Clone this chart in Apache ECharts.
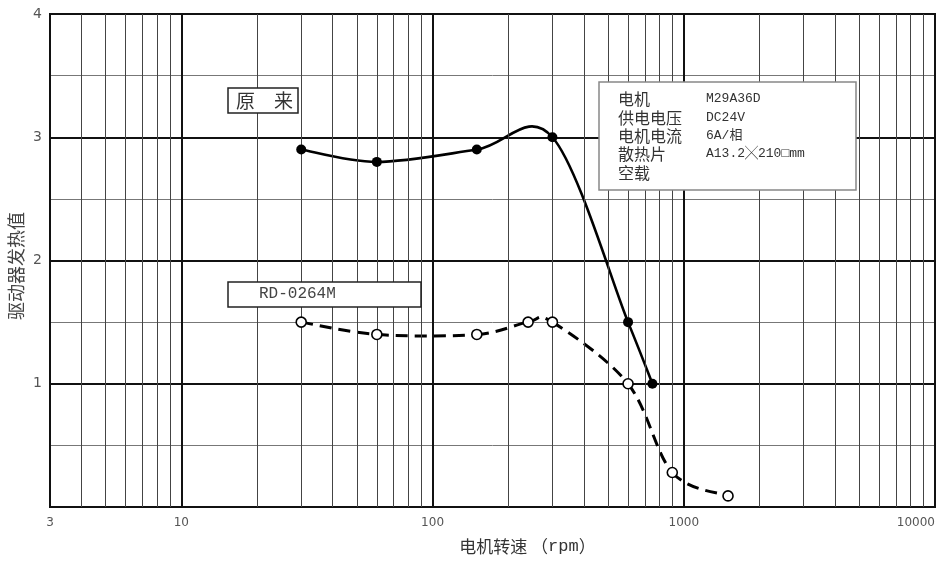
<!DOCTYPE html>
<html>
<head>
<meta charset="utf-8">
<script src="https://cdn.jsdelivr.net/npm/echarts@6/dist/echarts.min.js"></script>
<style>html,body{margin:0;padding:0;background:#fff;}#c{width:948px;height:561px;}</style>
</head>
<body>
<div id="c"></div>
<script>
// Data
var speedOld = [30, 60, 150, 300, 600, 750];
var heatOld = [2.9, 2.8, 2.9, 3.0, 1.5, 1.0];
var speedNew = [30, 60, 150, 240, 300, 600, 900, 1500];
var heatNew = [1.5, 1.4, 1.4, 1.5, 1.5, 1.0, 0.28, 0.09];
var minorX = [4,5,6,7,8,9,20,30,40,50,60,70,80,90,200,300,400,500,600,700,800,900,2000,3000,4000,5000,6000,7000,8000,9000];
var infoLabels = ['电机', '供电电压', '电机电流', '散热片', '空载'];
var infoValues = ['M29A36D', 'DC24V', '6A/相', 'A13.2╳210□mm', ''];
var legendOld = '原　来';
var legendNew = 'RD-0264M';
var yName = '驱动器发热值';

function pairs(xs, ys) { return xs.map(function (x, i) { return [x, ys[i]]; }); }

// Catmull-Rom spline segments drawn through the axis scales (api.coord)
function splineRenderer(xs, ys, style) {
  return function (params, api) {
    var i = params.dataIndex, n = xs.length;
    if (i >= n - 1) return null;
    function P(k) { k = Math.max(0, Math.min(n - 1, k)); return api.coord([xs[k], ys[k]]); }
    var p0 = P(i - 1), p1 = P(i), p2 = P(i + 1), p3 = P(i + 2);
    return {
      type: 'bezierCurve',
      shape: {
        x1: p1[0], y1: p1[1], x2: p2[0], y2: p2[1],
        cpx1: p1[0] + (p2[0] - p0[0]) / 6, cpy1: p1[1] + (p2[1] - p0[1]) / 6,
        cpx2: p2[0] - (p3[0] - p1[0]) / 6, cpy2: p2[1] - (p3[1] - p1[1]) / 6
      },
      style: style,
      silent: true
    };
  };
}

var chart = echarts.init(document.getElementById('c'), null, { renderer: 'canvas' });

var graphics = [
  { type: 'rect', shape: { x: 228, y: 88, width: 70, height: 25 }, style: { fill: '#fff', stroke: '#222', lineWidth: 1.5 }, z: 100 },
  { type: 'text', x: 236, y: 101, style: { text: legendOld, font: '19px "Noto Sans CJK SC"', fill: '#333', verticalAlign: 'middle' }, z: 101 },
  { type: 'rect', shape: { x: 228, y: 282, width: 193, height: 25 }, style: { fill: '#fff', stroke: '#222', lineWidth: 1.5 }, z: 100 },
  { type: 'text', x: 259, y: 294, style: { text: legendNew, font: '16px "Liberation Mono"', fill: '#444', verticalAlign: 'middle' }, z: 101 },
  { type: 'rect', shape: { x: 599, y: 82, width: 257, height: 108 }, style: { fill: '#fff', stroke: '#888', lineWidth: 1.5 }, z: 100 },
  { type: 'text', x: 16, y: 266, rotation: Math.PI / 2, style: { text: yName, font: '18px "Noto Sans CJK SC"', fill: '#444', align: 'center', verticalAlign: 'middle' }, z: 101 }
];
var rowY = [99, 118, 136, 154, 173];
infoLabels.forEach(function (t, i) {
  graphics.push({ type: 'text', x: 618, y: rowY[i], style: { text: t, font: '16px "Noto Sans CJK SC"', fill: '#333', verticalAlign: 'middle' }, z: 101 });
  if (infoValues[i]) {
    graphics.push({ type: 'text', x: 706, y: rowY[i], style: { text: infoValues[i], font: '13px "Liberation Mono", "Noto Sans CJK SC"', fill: '#333', verticalAlign: 'middle' }, z: 101 });
  }
});

var option = {
  animation: false,
  backgroundColor: '#fff',
  grid: { left: 50, top: 14, right: 13, bottom: 54, show: true, borderColor: '#111', borderWidth: 2, backgroundColor: 'transparent' },
  xAxis: {
    type: 'log', logBase: 10, min: 3, max: 10000,
    name: '{a|电机转速 （}{b|rpm}{a|）}', nameLocation: 'middle', nameGap: 31,
    nameTextStyle: {
      color: '#333', padding: [0, 0, 0, 70],
      rich: {
        a: { fontFamily: '"Noto Sans CJK SC"', fontSize: 17, color: '#333' },
        b: { fontFamily: '"Liberation Mono"', fontSize: 17, color: '#333' }
      }
    },
    axisLine: { show: true, lineStyle: { color: '#111', width: 2 } },
    axisTick: { show: false },
    axisLabel: { color: '#555', fontSize: 12, fontFamily: '"DejaVu Sans"', margin: 10, alignMaxLabel: 'right',
      formatter: function (v) { return String(Math.round(v)); } },
    splitLine: { show: true, lineStyle: { color: '#111', width: 2 } }
  },
  yAxis: {
    type: 'value', min: 0, max: 4, interval: 1,
    axisLine: { show: true, lineStyle: { color: '#111', width: 2 } },
    axisTick: { show: false },
    axisLabel: { color: '#555', fontSize: 14, fontFamily: '"DejaVu Sans"', margin: 8, showMinLabel: false },
    splitLine: { show: true, lineStyle: { color: '#111', width: 2 } },
    minorTick: { show: false, splitNumber: 2 },
    minorSplitLine: { show: true, lineStyle: { color: '#777', width: 1 } }
  },
  graphic: graphics,
  series: [
    {
      type: 'line', data: [[3, 0]], showSymbol: false, symbol: 'none', lineStyle: { opacity: 0 }, silent: true, z: 1,
      markLine: {
        silent: true, symbol: ['none', 'none'], label: { show: false },
        lineStyle: { color: '#444', width: 1, type: 'solid' },
        data: minorX.map(function (v) { return { xAxis: v }; })
      }
    },
    {
      name: '原来-curve', type: 'custom', coordinateSystem: 'cartesian2d', z: 4,
      data: pairs(speedOld, heatOld),
      renderItem: splineRenderer(speedOld, heatOld, { stroke: '#000', lineWidth: 2.6, fill: null })
    },
    {
      name: 'RD-0264M-curve', type: 'custom', coordinateSystem: 'cartesian2d', z: 4,
      data: pairs(speedNew, heatNew),
      renderItem: splineRenderer(speedNew, heatNew, { stroke: '#000', lineWidth: 3, fill: null, lineDash: [12, 7] })
    },
    {
      name: '原来', type: 'scatter', data: pairs(speedOld, heatOld),
      symbol: 'circle', symbolSize: 10, itemStyle: { color: '#000', opacity: 1 }, z: 5
    },
    {
      name: 'RD-0264M', type: 'scatter', data: pairs(speedNew, heatNew),
      symbol: 'circle', symbolSize: 10,
      itemStyle: { color: '#fff', borderColor: '#000', borderWidth: 1.6, opacity: 1 }, z: 5
    }
  ]
};
chart.setOption(option);
</script>
</body>
</html>
